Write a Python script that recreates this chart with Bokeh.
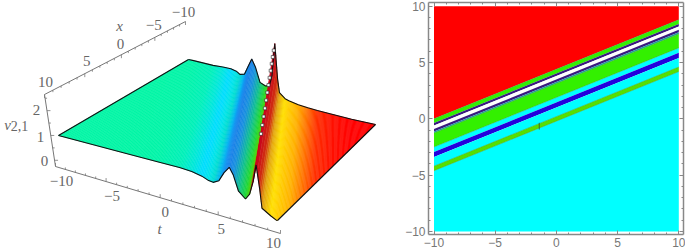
import numpy as np
from bokeh.plotting import figure
from bokeh.layouts import row
from bokeh.models import FixedTicker, Range1d, LinearAxis
from bokeh.core.properties import value
from bokeh.embed import file_html
from bokeh.resources import INLINE

# ---------- surface data ----------
slope_k = 0.44
u_knots = [-14.4, -8, -5, -3, -2, -1.2, -0.6, -0.2, 0.3, 0.7, 1.1, 1.5, 2.0, 2.6, 3.0, 3.15, 3.3, 3.6, 3.9, 4.2, 5.0, 5.5, 6.5, 7.5, 8.5, 10, 12, 14.4]
v_front = [1, 1, 1, 1.0, .97, .9, .8, .78, .9, 1.25, 1.5, 1.25, .7, .48, .7, .95, 1.2, 1.85, 1.0, .3, .1, 0, 0, 0, 0, 0, 0, 0]
v_back  = [1, 1, 1, .98, 1.0, 1.0, .95, .85, .9, 1.25, 1.6, 1.3, .7, .6, .65, .85, 1.1, 2.45, 1.0, .45, .25, .2, .12, .08, .05, .03, 0, 0]
d_front = [0, 0, 0, .1, .2, .3, .3, .3, .3, .35, .4, .35, .3, .3, .25, .25, .25, .2, .2, .1, .05, 0, 0, 0, 0, 0, 0, 0]
d_back  = [0, 0, 0, .2, .3, .4, .4, .4, .4, .4, .4, .4, .4, .4, .4, .4, .4, .4, .4, .3, .1, 0, 0, 0, 0, 0, 0, 0]
u_colors = ["#00F5A4", "#00F5A4", "#00F4A8", "#00F0B8", "#00E8D8", "#00DCFF", "#00E4E8", "#00DCD0", "#00B4F0", "#1090F0", "#1A80E8", "#1890E0", "#10C090", "#20D830", "#50D000", "#C03010", "#C80020", "#C80020", "#D03010", "#E0A010", "#FFE000", "#FFD000", "#FFB000", "#FF7000", "#FF3000", "#FF1000", "#FF0000", "#FF0000"]
RIDGE = u_knots.index(3.6)

t_ticks = [-10, -5, 0, 5, 10]
x_ticks = [10, 5, 0, -5, -10]
v_ticks = [0, 1, 2]
tick_text = {-10: "\u221210", -5: "\u22125", 0: "0", 5: "5", 10: "10", 1: "1", 2: "2"}

# ---------- contour bands of the right panel ----------
band_edges = [4.4, 4.03, 3.8, 3.5, 3.28, 3.14, 1.9, 1.46, 1.01, 0.2, -0.2]
band_colors = ["#33F000", "#3A1A80", "#FFFFFF", "#3A1A80", "#20A0A0", "#33F000", "#00FFFF", "#2200DD", "#00FFFF", "#55E000"]
top_color = "#FF0000"
bottom_color = "#00FFFF"
grid_ticks = [-10, -5, 0, 5, 10]
minor_ticks = [-9, -8, -7, -6, -4, -3, -2, -1, 1, 2, 3, 4, 6, 7, 8, 9]

# ---------- camera ----------
src = [(-10, 10), (10, 10), (-10, -10), (10, -10)]
dst = [(58, 133), (277, 191), (188, 57), (375, 98)]
v_scale = {"nl": 26, "nr": 27, "fl": 24, "fr": 24}
M, b = [], []
for (a, c), (X, Y) in zip(src, dst):
    M.append([a, c, 1, 0, 0, 0, -a * X, -c * X]); b.append(X)
    M.append([0, 0, 0, a, c, 1, -a * Y, -c * Y]); b.append(Y)
h = np.linalg.solve(np.array(M, float), np.array(b, float))


def project(t, x, v):
    t, x, v = np.asarray(t, float), np.asarray(x, float), np.asarray(v, float)
    w = h[6] * t + h[7] * x + 1
    X = (h[0] * t + h[1] * x + h[2]) / w
    Y = (h[3] * t + h[4] * x + h[5]) / w
    a, c = (t + 10) / 20, (x + 10) / 20
    s = (v_scale["nl"] * (1 - a) + v_scale["nr"] * a) * c + (v_scale["fl"] * (1 - a) + v_scale["fr"] * a) * (1 - c)
    return X, Y - (v - 1) * s


def along(A, B, s, r=0.87):
    s = np.asarray(s, float)
    f = r * s / (1 - s + r * s)
    return float(A[0] + (B[0] - A[0]) * f), float(A[1] + (B[1] - A[1]) * f)


def hex2rgb(c):
    return np.array([int(c[i:i + 2], 16) for i in (1, 3, 5)], float)


def rgb2hex(c):
    return "#%02X%02X%02X" % tuple(int(round(q)) for q in c)


def crease(u, df, db):
    """Ends of one constant-phase line on the t,x square: (t, x) at each end."""
    tf, tb = u + slope_k * 10 + df, u - slope_k * 10 + db
    lo, hi = -10.0, 10.0
    g = (tf - tb) / 20
    lo = max(lo, -10 + (-10 - tb) / g)
    hi = min(hi, -10 + (10 - tb) / g)
    if hi <= lo:
        hi = lo + 1e-6
    return (tb + g * (lo + 10), lo), (tb + g * (hi + 10), hi)


def vat(x, vb, vf):
    return vb + (vf - vb) * (x + 10) / 20


left = figure(frame_width=400, frame_height=249, x_range=Range1d(0, 400), y_range=Range1d(249, 0), toolbar_location=None,
              output_backend="svg", min_border=0, outline_line_color=None, title=None,
              x_axis_location=None, y_axis_location=None)
left.grid.visible = False

xs, ys, cs = [], [], []
N = len(u_knots)
for i in range(N - 1):
    u0, u1 = u_knots[i], u_knots[i + 1]
    sub = max(2, int(np.ceil((u1 - u0) / 0.12)))
    for j in range(sub):
        f0, f1 = j / sub, (j + 1) / sub
        L = lambda arr, f: arr[i] + (arr[i + 1] - arr[i]) * f
        (ta0, xa0), (ta1, xa1) = crease(L(u_knots, f0), L(d_front, f0), L(d_back, f0))
        (tb0, xb0), (tb1, xb1) = crease(L(u_knots, f1), L(d_front, f1), L(d_back, f1))
        ts = [ta0, ta1, tb1, tb0]
        xx = [xa0, xa1, xb1, xb0]
        vv = [vat(xa0, L(v_back, f0), L(v_front, f0)), vat(xa1, L(v_back, f0), L(v_front, f0)),
              vat(xb1, L(v_back, f1), L(v_front, f1)), vat(xb0, L(v_back, f1), L(v_front, f1))]
        X, Y = project(ts, xx, vv)
        col = hex2rgb(u_colors[i]) * (1 - (f0 + f1) / 2) + hex2rgb(u_colors[i + 1]) * (f0 + f1) / 2
        xs.append(list(X)); ys.append(list(Y)); cs.append(rgb2hex(col))
left.patches(xs, ys, fill_color=cs, line_color=cs, line_width=0.5)

# surface outline
uarr, dfa, dba = np.array(u_knots), np.array(d_front), np.array(d_back)
mask_f = uarr <= 5.6
front = project((uarr + slope_k * 10 + dfa)[mask_f], np.full(mask_f.sum(), 10.0), np.array(v_front)[mask_f])
mask_b = uarr >= -5.5
back = project((uarr - slope_k * 10 + dba)[mask_b], np.full(mask_b.sum(), -10.0), np.array(v_back)[mask_b])
mf = project(-10, 10, 1)
lb = project(-10, -10, 1)
c1 = project(10, 10, 0)
c2 = project(10, -10, 0)
EDGE = dict(line_color="#111111", line_width=1.1)
left.line(np.r_[float(mf[0]), front[0], float(c1[0])], np.r_[float(mf[1]), front[1], float(c1[1])], **EDGE)
left.line(np.r_[float(lb[0]), back[0], float(c2[0])], np.r_[float(lb[1]), back[1], float(c2[1])], **EDGE)
left.line([float(mf[0]), float(lb[0])], [float(mf[1]), float(lb[1])], **EDGE)
left.line([float(c1[0]), float(c2[0])], [float(c1[1]), float(c2[1])], **EDGE)

# white specks on the ridge
spike_x = [-8.6, -7.3, -6, -4.7, -3.4, -2.1, -0.8, 0.5, 1.8, 3.1, 4.4, 5.7]
tf_r = u_knots[RIDGE] + slope_k * 10 + d_front[RIDGE]
tb_r = u_knots[RIDGE] - slope_k * 10 + d_back[RIDGE]
sv = [vat(q, v_back[RIDGE], v_front[RIDGE]) for q in spike_x]
st = [tb_r + (tf_r - tb_r) * (q + 10) / 20 for q in spike_x]
sX, sY = project(st, spike_x, sv)
left.scatter(sX, sY, size=3, marker="square", fill_color="#FFFFFF", line_color="#222222", line_width=0.6)

# 3D axes
AX = "#777777"
t_a, t_b = (55, 164), (280, 231)
x_a, x_b = (44, 92), (185, 19)
v_a, v_b = (55, 164), (44, 92)
left.line([t_a[0], t_b[0]], [t_a[1], t_b[1]], line_color=AX, line_width=1)
left.line([x_a[0], x_b[0]], [x_a[1], x_b[1]], line_color=AX, line_width=1)
left.line([v_a[0], v_b[0]], [v_a[1], v_b[1]], line_color=AX, line_width=1)
for q in range(-10, 11):
    s = (q + 10) / 20
    X, Y = along(t_a, t_b, s)
    L_ = 3.5 if q % 5 == 0 else 2
    left.line([X, X], [Y, Y - L_], line_color=AX, line_width=0.8)
    X, Y = along(x_a, x_b, s, 1.2)
    left.line([X, X], [Y, Y + L_], line_color=AX, line_width=0.8)
for q in [0, 0.5, 1, 1.5, 2, 2.5]:
    s = (q + 0.25) / 2.9
    X, Y = float(v_a[0] + (v_b[0] - v_a[0]) * s), float(v_a[1] + (v_b[1] - v_a[1]) * s)
    left.line([X, X + (3.5 if q == int(q) else 2)], [Y, Y], line_color=AX, line_width=0.8)

txt = dict(text_font=value("Liberation Serif"), text_color="#666666", text_align="center", text_baseline="middle", text_font_size="15px")
for q, off in zip(t_ticks, [(6, 14), (6, 14), (5, 14), (3, 14), (-7, 9)]):
    X, Y = along(t_a, t_b, (q + 10) / 20)
    left.text([X + off[0]], [Y + off[1]], text=[tick_text[q]], **txt)
for q, off in zip(x_ticks, [(1, -13), (2, -13), (-1, -11), (-1, -12), (-2, -10)]):
    X, Y = along(x_a, x_b, (10 - q) / 20, 1.2)
    left.text([X + off[0]], [Y + off[1]], text=[tick_text[q]], **txt)
v_pos = [158, 134, 107]
for q, yy, xx in zip(v_ticks, v_pos, [44, 40, 36]):
    left.text([xx], [yy], text=[tick_text[q]], **txt)
it = dict(txt)
it["text_font_style"] = "italic"
left.text([159], [226], text=["t"], **it)
left.text([119], [23], text=["x"], **it)
left.text([7], [122], text=["v"], **it)
left.text([19], [123], text=["2,1"], **dict(txt, text_font_size="14px"))

# ---------- right panel ----------
ux, uy = 12.24, 11.265
right = figure(width=285, height=249, toolbar_location=None, output_backend="svg",
               x_range=Range1d(-10 - (433.5 - 428) / ux, 10 + (683 - 678.3) / ux),
               y_range=Range1d(-10 - (234 - 231) / uy, 10 + (5.7 - 2) / uy),
               min_border_left=28, min_border_right=2, min_border_top=2, min_border_bottom=15,
               outline_line_color=None)
right.grid.visible = False
edge_x = [-10, 10]


def bound(c):
    return [slope_k * q + c for q in edge_x]


e0 = bound(band_edges[0])
e1 = bound(band_edges[-1])
right.patch([-10, 10, 10, -10], [10, 10, e0[1], e0[0]], fill_color=top_color, line_color=None)
right.patch([-10, 10, 10, -10], [-10, -10, e1[1], e1[0]], fill_color=bottom_color, line_color=None)
for i, col in enumerate(band_colors):
    a, c = bound(band_edges[i]), bound(band_edges[i + 1])
    right.patch([-10, 10, 10, -10], [a[0], a[1], c[1], c[0]], fill_color=col, line_color=None)
for c in [band_edges[0], band_edges[5], band_edges[6], band_edges[9], band_edges[10]]:
    right.line(edge_x, bound(c), line_color="#40A040", line_width=0.5)
right.line([-1.4, -1.4], [-0.95, -0.35], line_color="#305030", line_width=0.8)

FR = "#888888"


def style(ax, labels=True):
    ax.ticker = FixedTicker(ticks=grid_ticks, minor_ticks=minor_ticks)
    ax.axis_line_color = FR
    ax.axis_line_width = 1.5
    ax.major_tick_line_color = FR
    ax.minor_tick_line_color = FR
    ax.major_tick_in = 4
    ax.major_tick_out = 0
    ax.minor_tick_in = 2
    ax.minor_tick_out = 0
    ax.major_label_standoff = 3
    ax.major_label_text_color = "#777777"
    ax.major_label_text_font = "Liberation Sans"
    ax.major_label_text_font_size = "12px"
    if not labels:
        ax.major_label_text_color = None
        ax.major_label_text_font_size = "1px"
        ax.major_label_standoff = 0


style(right.xaxis[0])
style(right.yaxis[0])
for loc in ("above", "right"):
    ax = LinearAxis()
    style(ax, False)
    right.add_layout(ax, loc)

page = row(left, right, spacing=0)
open("out.html", "w").write(file_html(page, INLINE))
